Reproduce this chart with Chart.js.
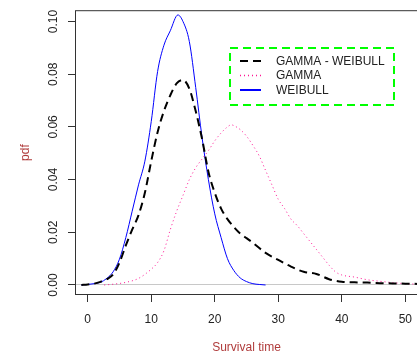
<!DOCTYPE html>
<html>
<head>
<meta charset="utf-8">
<script src="https://cdn.jsdelivr.net/npm/chart.js@4"></script>
<style>
  html, body { margin: 0; padding: 0; background: #fff; overflow: hidden; }
  canvas { display: block; }
</style>
</head>
<body>
<canvas id="pdf-chart" width="422" height="356"></canvas>
<script>
// values
let seriesNames = ['GAMMA - WEIBULL', 'GAMMA', 'WEIBULL'];

let gwTime = [-1, 0, 1, 2, 3, 4, 5, 6, 7, 8, 9, 10, 11, 12, 13, 14, 15, 16, 17, 18, 19, 20, 21, 22, 23, 24, 25, 26, 28, 30, 32, 34, 36, 38, 40, 42, 44, 46, 48, 50, 52];
let gwPdf = [0, 0.0002, 0.0005, 0.0012, 0.0022, 0.0040, 0.0085, 0.0150, 0.0210, 0.0265, 0.0350, 0.0470, 0.0580, 0.0660, 0.0720, 0.0765, 0.0778, 0.0745, 0.0660, 0.0555, 0.0430, 0.0350, 0.0290, 0.0250, 0.0220, 0.0195, 0.0178, 0.0160, 0.0122, 0.0095, 0.0070, 0.0050, 0.0042, 0.0022, 0.0012, 0.0010, 0.0009, 0.0007, 0.0006, 0.0005, 0.0004];

let gammaTime = [2.6, 4, 6, 8, 10, 11, 12, 13, 14, 15, 16, 17, 18, 19, 20, 21, 22, 22.6, 23, 24, 25, 26, 27, 28, 29, 30, 31, 32, 33, 34, 35, 36, 37, 38, 39, 40, 42, 44, 46, 48, 50, 52];
let gammaPdf = [0, 0.0003, 0.0010, 0.0025, 0.0060, 0.0085, 0.0130, 0.0210, 0.0280, 0.0340, 0.0400, 0.0445, 0.0478, 0.0510, 0.0547, 0.0577, 0.0600, 0.0608, 0.0605, 0.0590, 0.0565, 0.0530, 0.0490, 0.0435, 0.0380, 0.0325, 0.0290, 0.0250, 0.0225, 0.0195, 0.0165, 0.0135, 0.0105, 0.0075, 0.0050, 0.0038, 0.0030, 0.0020, 0.0014, 0.0009, 0.0005, 0.0003];

let weibullTime = [-1, 0, 1, 2, 3, 4, 5, 6, 7, 8, 9, 10, 11, 12, 13, 14.2, 15, 16, 17, 18, 19, 20, 21, 22, 23, 24, 25, 26, 27, 28];
let weibullPdf = [0, 0.0002, 0.0005, 0.0010, 0.0025, 0.0050, 0.0098, 0.0180, 0.0280, 0.0380, 0.0470, 0.0620, 0.0810, 0.0910, 0.0965, 0.1025, 0.1000, 0.0924, 0.0750, 0.0560, 0.0400, 0.0270, 0.0180, 0.0100, 0.0055, 0.0027, 0.0013, 0.0005, 0.0002, 0];

let xTicks = [0, 10, 20, 30, 40, 50];
let yTicks = [0, 0.02, 0.04, 0.06, 0.08, 0.10];

let lineColors = ['#000000', '#ff1493', '#0000ff'];
let lineDashes = [[8, 5], [1, 3], []];
let lineWidths = [2, 1, 1];
let legendWidths = [2, 1.5, 2];

const font = { family: 'Arial, "Liberation Sans", Helvetica, sans-serif', size: 12 };
const titleColor = '#b03c3c';

function toPoints(xs, ys) {
  return xs.map((x, i) => ({ x: x, y: ys[i] }));
}

let curves = [toPoints(gwTime, gwPdf), toPoints(gammaTime, gammaPdf), toPoints(weibullTime, weibullPdf)];

// box round the plot region, like R's box()
const frame = {
  id: 'frame',
  afterDraw(chart) {
    const a = chart.chartArea;
    const ctx = chart.ctx;
    ctx.save();
    ctx.strokeStyle = '#333';
    ctx.lineWidth = 1;
    ctx.strokeRect(a.left + 0.5, a.top + 0.5, a.right - a.left - 1, a.bottom - a.top - 1);
    ctx.restore();
  }
};

// legend with the green dashed border
const legendBox = {
  id: 'legendBox',
  afterDraw(chart) {
    const ctx = chart.ctx;
    ctx.save();
    ctx.strokeStyle = '#00ff00';
    ctx.lineWidth = 2;
    ctx.setLineDash([8, 5]);
    ctx.strokeRect(230, 48, 164, 57);
    ctx.font = font.size + 'px ' + font.family;
    ctx.textBaseline = 'middle';
    ctx.fillStyle = '#222';
    chart.data.datasets.forEach((ds, i) => {
      const y = 61 + i * 14.5;
      ctx.strokeStyle = ds.borderColor;
      ctx.lineWidth = legendWidths[i];
      ctx.setLineDash(ds.borderDash);
      ctx.beginPath();
      ctx.moveTo(240, y);
      ctx.lineTo(261, y);
      ctx.stroke();
      ctx.fillText(ds.label, 276, y + 0.5);
    });
    ctx.restore();
  }
};

new Chart(document.getElementById('pdf-chart'), {
  type: 'line',
  data: {
    datasets: seriesNames.map((name, i) => ({
      label: name,
      data: curves[i],
      borderColor: lineColors[i],
      borderDash: lineDashes[i],
      borderWidth: lineWidths[i],
      pointRadius: 0,
      fill: false,
      cubicInterpolationMode: 'monotone',
    })),
  },
  options: {
    responsive: false,
    animation: false,
    layout: { padding: { top: 9, left: 0, right: 0, bottom: 0 } },
    plugins: { legend: { display: false }, tooltip: { enabled: false } },
    scales: {
      x: {
        type: 'linear',
        min: -2,
        max: 52,
        afterBuildTicks: s => { s.ticks = xTicks.map(v => ({ value: v })); },
        afterFit: s => { s.height = 61; },
        grid: { drawOnChartArea: false, color: 'transparent', tickColor: '#333', tickLength: 7 },
        border: { display: false },
        ticks: { color: '#222', font: font, padding: 10, maxRotation: 0, autoSkip: false },
        title: { display: true, text: 'Survival time', color: titleColor, font: font, padding: { top: 0, bottom: 1 } },
      },
      y: {
        min: -0.0038,
        max: 0.1043,
        afterBuildTicks: s => { s.ticks = yTicks.map(v => ({ value: v })); },
        afterFit: s => { s.width = 75; },
        grid: { color: c => (c.tick && c.tick.value === 0 ? '#c8c8c8' : 'transparent'), tickColor: '#333', tickLength: 7 },
        border: { display: false },
        ticks: { color: '#222', font: font, minRotation: 90, maxRotation: 90, crossAlign: 'center', padding: 3, callback: v => v.toFixed(2) },
        title: { display: true, text: 'pdf', color: titleColor, font: font, padding: { top: 18, bottom: 0 } },
      },
    },
  },
  plugins: [frame, legendBox],
});
</script>
</body>
</html>
